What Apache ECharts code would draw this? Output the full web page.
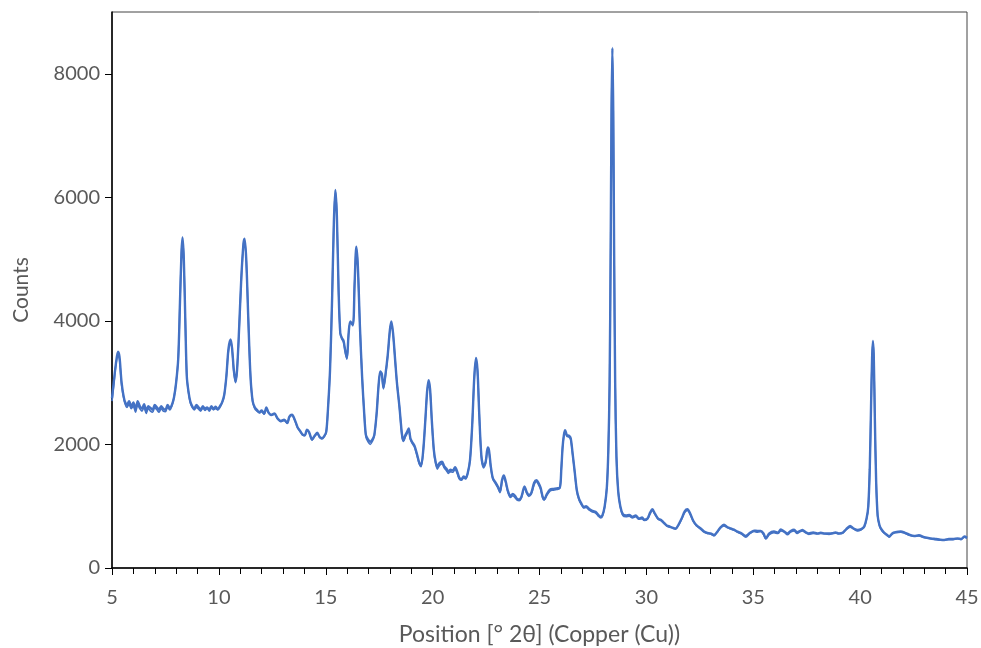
<!DOCTYPE html>
<html><head><meta charset="utf-8">
<script src="https://cdn.jsdelivr.net/npm/echarts@6/dist/echarts.min.js"></script>
<style>html,body{margin:0;padding:0;background:#fff}#c{width:981px;height:648px}</style>
</head><body><div id="c"></div>
<script>
const xTitle = 'Position [° 2θ] (Copper (Cu))';
const yTitle = 'Counts';
const xs = [5.00,5.08,5.18,5.28,5.35,5.45,5.58,5.70,5.80,5.90,6.00,6.10,6.20,6.30,6.40,6.50,6.60,6.70,6.80,6.90,7.00,7.10,7.20,7.30,7.40,7.50,7.60,7.70,7.80,7.90,8.00,8.10,8.18,8.25,8.30,8.36,8.43,8.50,8.58,8.66,8.75,8.85,8.95,9.05,9.15,9.25,9.35,9.45,9.55,9.65,9.75,9.85,9.95,10.05,10.15,10.25,10.35,10.45,10.55,10.62,10.70,10.78,10.85,10.95,11.05,11.15,11.20,11.28,11.38,11.48,11.58,11.68,11.78,11.90,12.00,12.12,12.22,12.32,12.45,12.60,12.75,12.90,13.05,13.20,13.30,13.42,13.55,13.68,13.80,13.92,14.02,14.12,14.22,14.36,14.48,14.60,14.72,14.82,14.92,15.02,15.10,15.20,15.30,15.38,15.45,15.52,15.60,15.68,15.76,15.83,15.92,15.99,16.07,16.15,16.27,16.35,16.43,16.50,16.60,16.70,16.80,16.88,16.98,17.08,17.18,17.27,17.38,17.47,17.55,17.62,17.70,17.80,17.90,18.00,18.07,18.15,18.25,18.33,18.45,18.57,18.64,18.72,18.80,18.88,18.96,19.04,19.15,19.27,19.38,19.46,19.56,19.66,19.74,19.81,19.88,19.96,20.06,20.15,20.22,20.32,20.44,20.54,20.64,20.74,20.83,20.95,21.05,21.15,21.25,21.35,21.45,21.55,21.65,21.75,21.85,21.95,22.03,22.10,22.18,22.28,22.38,22.48,22.58,22.64,22.72,22.82,22.95,23.05,23.15,23.25,23.33,23.42,23.52,23.64,23.75,23.85,23.95,24.05,24.15,24.30,24.40,24.50,24.62,24.75,24.86,24.95,25.05,25.15,25.22,25.35,25.50,25.65,25.80,25.95,26.02,26.08,26.14,26.20,26.28,26.38,26.46,26.55,26.64,26.75,26.85,26.95,27.07,27.18,27.31,27.45,27.62,27.75,27.86,27.95,28.05,28.15,28.22,28.28,28.33,28.37,28.41,28.45,28.49,28.54,28.60,28.68,28.78,28.90,29.05,29.20,29.35,29.50,29.65,29.80,29.90,30.05,30.18,30.28,30.40,30.55,30.67,30.80,30.95,31.10,31.25,31.37,31.50,31.65,31.80,31.92,32.05,32.20,32.35,32.54,32.70,32.85,33.00,33.16,33.30,33.45,33.63,33.80,33.95,34.10,34.26,34.45,34.65,34.85,35.04,35.20,35.35,35.48,35.59,35.75,35.97,36.15,36.29,36.45,36.60,36.75,36.91,37.05,37.20,37.30,37.45,37.60,37.80,38.00,38.16,38.35,38.55,38.70,38.85,39.00,39.18,39.35,39.53,39.70,39.88,40.05,40.19,40.30,40.38,40.45,40.51,40.56,40.60,40.64,40.69,40.75,40.82,40.90,40.97,41.10,41.25,41.36,41.50,41.65,41.90,42.10,42.30,42.53,42.75,43.00,43.31,43.55,43.75,43.94,44.15,44.35,44.56,44.72,44.88,45.00];
const countsA = [2750,3000,3300,3500,3420,3000,2720,2640,2700,2610,2680,2560,2700,2620,2580,2650,2540,2620,2590,2560,2640,2600,2560,2620,2580,2560,2640,2590,2640,2760,3000,3400,4300,5100,5350,5000,4000,3100,2850,2700,2620,2580,2640,2600,2560,2620,2580,2600,2560,2620,2580,2610,2570,2620,2680,2800,3100,3550,3700,3550,3200,3020,3200,3900,4700,5250,5330,5000,4000,3100,2700,2600,2560,2520,2550,2500,2600,2520,2480,2500,2420,2380,2400,2350,2450,2480,2400,2280,2220,2160,2150,2240,2200,2080,2140,2190,2120,2100,2130,2200,2550,3200,4400,5600,6120,5700,4500,3800,3720,3680,3500,3400,3800,3990,3940,4600,5200,4900,3900,3100,2500,2150,2080,2040,2080,2150,2500,2950,3180,3150,2920,3150,3450,3850,3990,3800,3350,3000,2600,2150,2070,2150,2200,2260,2100,2040,1980,1840,1700,1660,1900,2400,2850,3040,2900,2400,1900,1700,1640,1700,1720,1650,1610,1560,1590,1580,1630,1560,1460,1440,1480,1460,1550,1750,2300,3100,3400,3200,2500,1820,1650,1720,1950,1900,1650,1450,1380,1320,1240,1430,1500,1400,1250,1160,1200,1170,1120,1110,1150,1320,1230,1180,1220,1380,1420,1380,1300,1150,1110,1200,1270,1280,1290,1300,1600,1950,2150,2230,2150,2140,2100,1850,1580,1250,1120,1050,990,1000,960,930,910,860,830,860,1000,1300,1900,3000,5200,7400,8420,7400,5200,3000,1800,1250,1000,870,850,860,830,850,800,820,780,800,900,950,880,800,780,740,690,670,650,640,700,800,920,950,880,760,690,640,590,570,560,535,580,650,700,660,640,620,590,560,520,570,605,600,600,560,480,560,590,570,625,590,560,600,620,580,600,615,580,560,575,560,570,560,560,565,575,560,570,630,680,640,615,630,670,800,990,1600,2600,3400,3675,3400,2400,1400,850,700,640,580,540,510,560,580,590,570,540,520,530,500,480,470,460,455,470,470,480,470,510,490];
const countsB = [2700,2960,3280,3440,3380,2960,2700,2600,2650,2580,2620,2520,2640,2580,2540,2600,2500,2580,2540,2520,2600,2560,2520,2580,2540,2530,2600,2560,2620,2760,3000,3400,4300,5080,5320,4980,4000,3100,2840,2680,2600,2560,2600,2570,2540,2590,2550,2580,2540,2590,2560,2580,2560,2600,2670,2800,3100,3520,3660,3520,3180,3000,3200,3880,4680,5230,5300,4980,4000,3100,2700,2580,2540,2510,2530,2490,2580,2510,2470,2490,2410,2370,2390,2340,2440,2470,2390,2270,2210,2150,2140,2220,2190,2070,2130,2170,2110,2090,2120,2190,2550,3200,4400,5600,6100,5700,4500,3800,3700,3660,3480,3380,3780,3970,3920,4600,5180,4880,3900,3100,2500,2120,2040,2000,2050,2130,2500,2950,3150,3120,2900,3130,3430,3830,3960,3780,3350,3000,2600,2120,2050,2120,2170,2230,2080,2020,1960,1820,1680,1640,1900,2400,2830,3010,2880,2400,1880,1680,1600,1660,1690,1620,1580,1530,1560,1550,1600,1530,1440,1420,1460,1440,1540,1750,2300,3080,3370,3180,2500,1800,1620,1690,1920,1870,1630,1440,1360,1300,1220,1400,1470,1380,1230,1140,1170,1140,1100,1090,1130,1300,1210,1160,1200,1350,1400,1350,1280,1130,1100,1180,1250,1260,1270,1290,1600,1950,2140,2210,2130,2120,2080,1840,1570,1240,1100,1030,970,980,940,910,890,840,810,840,990,1300,1900,3000,5200,7400,8380,7400,5200,3000,1800,1240,990,850,830,840,810,830,790,800,770,790,880,930,870,790,770,730,680,660,640,630,690,790,900,930,870,750,680,630,580,560,550,520,570,640,680,650,630,610,580,550,500,560,590,580,590,540,470,540,570,560,600,580,540,580,600,560,590,600,570,545,560,550,560,550,545,555,565,550,560,620,660,630,600,620,660,790,980,1600,2600,3400,3640,3400,2400,1400,840,690,630,570,530,500,550,570,580,560,530,510,520,490,470,460,450,445,460,460,470,460,500,480];
const yTicks = {min: 0, max: 9000, interval: 2000};
const xTicks = {min: 5, max: 45, interval: 5};

const font = 'Lato, "Open Sans", sans-serif';
const pairs = (ys) => xs.map((x, i) => [x, ys[i]]);
const chart = echarts.init(document.getElementById('c'), null, {renderer: 'canvas'});
chart.setOption({
  animation: false,
  backgroundColor: '#fff',
  grid: {left: 112, right: 14, top: 12, bottom: 80, containLabel: false, outerBoundsMode: 'none',
    show: true, borderColor: '#444', borderWidth: 1},
  xAxis: {
    type: 'value', min: xTicks.min, max: xTicks.max, interval: xTicks.interval,
    name: xTitle, nameLocation: 'middle', nameGap: 55,
    nameTextStyle: {color: '#595959', fontSize: 23, fontFamily: font},
    axisLine: {show: true, onZero: false, lineStyle: {color: '#000', width: 1.5}},
    axisTick: {show: true, inside: false, length: 7, lineStyle: {color: '#000', width: 1}},
    minorTick: {show: true, splitNumber: 5, length: 6, lineStyle: {color: '#000', width: 1}},
    splitLine: {show: false},
    axisLabel: {color: '#595959', fontSize: 20, fontFamily: font, margin: 20}
  },
  yAxis: {
    type: 'value', min: yTicks.min, max: yTicks.max, interval: yTicks.interval,
    name: yTitle, nameLocation: 'middle', nameGap: 80, nameRotate: 90,
    nameTextStyle: {color: '#595959', fontSize: 21, fontFamily: font},
    axisLine: {show: true, lineStyle: {color: '#000', width: 1.5}},
    axisTick: {show: true, inside: false, length: 7, lineStyle: {color: '#000', width: 1}},
    splitLine: {show: false},
    axisLabel: {color: '#595959', fontSize: 20, fontFamily: font, margin: 12, showMaxLabel: false,
      formatter: (v) => String(v)}
  },
  series: [
    {type: 'line', data: pairs(countsA), showSymbol: false, smooth: 0.3, lineStyle: {color: '#4472C4', width: 2.4}, itemStyle: {color: '#4472C4'}},
    {type: 'line', data: pairs(countsB), showSymbol: false, smooth: 0.3, lineStyle: {color: '#4472C4', width: 1.6}, itemStyle: {color: '#4472C4'}}
  ]
});
</script></body></html>
